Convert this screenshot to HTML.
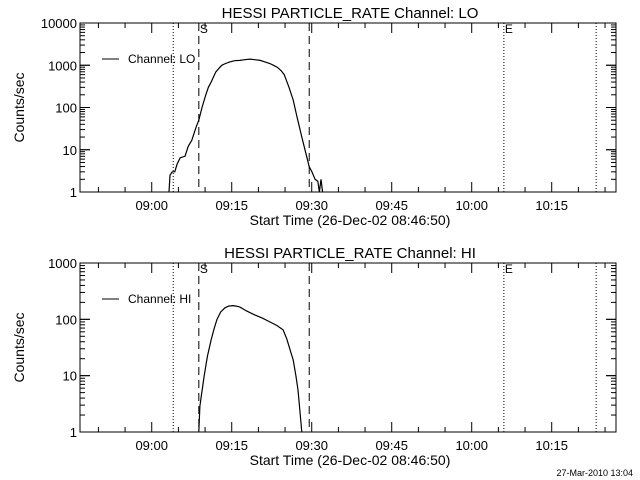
<!DOCTYPE html>
<html><head><meta charset="utf-8"><style>
html,body{margin:0;padding:0;background:#fff;}
svg{display:block;font-family:"Liberation Sans",sans-serif;}
</style></head><body>
<svg id="chart" width="640" height="480" viewBox="0 0 640 480" xmlns="http://www.w3.org/2000/svg"></svg>
<script>
// minutes after 08:46:50
const loTimes = [16.4,16.6,17.0,17.5,17.9,18.5,19.4,20.0,20.7,21.5,22.0,22.6,23.3,23.8,24.3,24.8,25.2,25.8,26.3,27.0,27.8,28.7,29.7,30.6,31.6,32.5,33.5,34.4,35.3,36.0,36.7,37.4,38.0,38.9,39.7,40.4,41.3,42.1,42.7,43.2,43.8,44.3,44.6,44.9,45.2];
const loValues = [1,2.5,3,3,4.5,6.5,7,12,17,35,50,100,200,300,400,550,700,850,1000,1100,1200,1280,1300,1350,1400,1350,1300,1200,1100,1000,900,750,600,300,150,60,20,8,4,3,2,1.8,1,2,1];
const hiTimes = [22.0,22.2,23.0,23.6,24.3,24.9,25.4,26.1,26.9,27.6,28.4,29.0,29.7,31.0,32.5,33.9,35.3,36.6,37.8,38.5,39.1,39.7,40.2,40.6,41.3];
const hiValues = [1,2.9,10,22,43,70,100,135,160,172,175,172,165,140,120,105,90,78,65,45,29,19,10,5.6,1];
const dottedLines = [17.2,79.2,96.5];
const dashedLines = [22.0,42.7];
const xTickLabels = ["09:00","09:15","09:30","09:45","10:00","10:15"];
const xTickMinutes = [13.17,28.17,43.17,58.17,73.17,88.17];
const loYTicks = ["1","10","100","1000","10000"];
const hiYTicks = ["1","10","100","1000"];

const NS="http://www.w3.org/2000/svg";
const svg=document.getElementById('chart');
function mk(tag,attrs,parent){const e=document.createElementNS(NS,tag);for(const k in attrs)e.setAttribute(k,attrs[k]);(parent||svg).appendChild(e);return e;}
const X0=81.5, PXMIN=5.333, L=80, R=616;
function xs(t){return X0+t*PXMIN;}

function panel(name,top,bot,decades,yTicks,times,vals,title,legend){
  const g=mk('g',{});
  
  
  const dec=(bot-top)/decades;
  const ys=v=>bot-dec*Math.log10(v);
  const t=mk('text',{x:350,y:top-5,'text-anchor':'middle','font-size':15},g);
  t.textContent=title;
  
  
  const box=mk('rect',{x:L,y:top,width:R-L,height:bot-top,fill:'none',stroke:'#000','stroke-width':1},g);
  
  
  for(let d=0;d<decades;d++){
    for(let m=1;m<=10;m++){
      const y=ys(m*Math.pow(10,d));
      const len=(m===1||m===10)?10:5;
      mk('line',{x1:L,x2:L+len,y1:y,y2:y,stroke:'#000'},g);
      mk('line',{x1:R,x2:R-len,y1:y,y2:y,stroke:'#000'},g);
    }
  }
  yTicks.forEach((lab,i)=>{
    const tx=mk('text',{x:L-3,y:ys(Math.pow(10,i))+5,'text-anchor':'end','font-size':13},g);
    tx.textContent=lab;
    
    
  });
  const yl=mk('text',{x:0,y:0,'text-anchor':'middle','font-size':14,transform:`translate(24,${(top+bot)/2}) rotate(-90)`},g);
  yl.textContent='Counts/sec';
  
  
  for(let m=-10;m<=100;m+=5){
    const x=xs(13.17+m-15);
    if(x<L+1||x>R-1)continue;
    const major=((m-15)%15===0);
    const len=major?10:5;
    mk('line',{x1:x,x2:x,y1:bot,y2:bot-len,stroke:'#000'},g);
    mk('line',{x1:x,x2:x,y1:top,y2:top+len,stroke:'#000'},g);
  }
  xTickLabels.forEach((lab,i)=>{
    const tx=mk('text',{x:xs(xTickMinutes[i]),y:bot+18,'text-anchor':'middle','font-size':13},g);
    tx.textContent=lab;
    
    
  });
  const xl=mk('text',{x:350,y:bot+33,'text-anchor':'middle','font-size':14},g);
  xl.textContent='Start Time (26-Dec-02 08:46:50)';
  
  
  dottedLines.forEach(tm=>{
    const l=mk('line',{x1:xs(tm),x2:xs(tm),y1:top,y2:bot,stroke:'#000','stroke-dasharray':'1,2'},g);
    
    
  });
  dashedLines.forEach(tm=>{
    const l=mk('line',{x1:xs(tm),x2:xs(tm),y1:top,y2:bot,stroke:'#000','stroke-dasharray':'8,5'},g);
    
    
  });
  const s=mk('text',{x:xs(dashedLines[0])+1,y:top+10,'font-size':12},g);
  s.textContent='S';
  
  
  const e=mk('text',{x:xs(dottedLines[1])+1,y:top+10,'font-size':12},g);
  e.textContent='E';
  
  
  const pts=times.map((tm,i)=>xs(tm).toFixed(1)+','+ys(Math.max(1,vals[i])).toFixed(1)).join(' ');
  const pl=mk('polyline',{points:pts,fill:'none',stroke:'#000','stroke-width':1.2},g);
  
  
  const ly=top+36;
  const ll=mk('line',{x1:102,x2:119,y1:ly,y2:ly,stroke:'#000'},g);
  
  
  const lt=mk('text',{x:128,y:ly+4,'font-size':12},g);
  lt.textContent=legend;
  
  
}
panel('lo',23,192,4,loYTicks,loTimes,loValues,'HESSI PARTICLE_RATE Channel: LO','Channel: LO');
panel('hi',263,432,3,hiYTicks,hiTimes,hiValues,'HESSI PARTICLE_RATE Channel: HI','Channel: HI');
const ts=mk('text',{x:633,y:476,'text-anchor':'end','font-size':9});
ts.textContent='27-Mar-2010 13:04';


</script>
</body></html>
